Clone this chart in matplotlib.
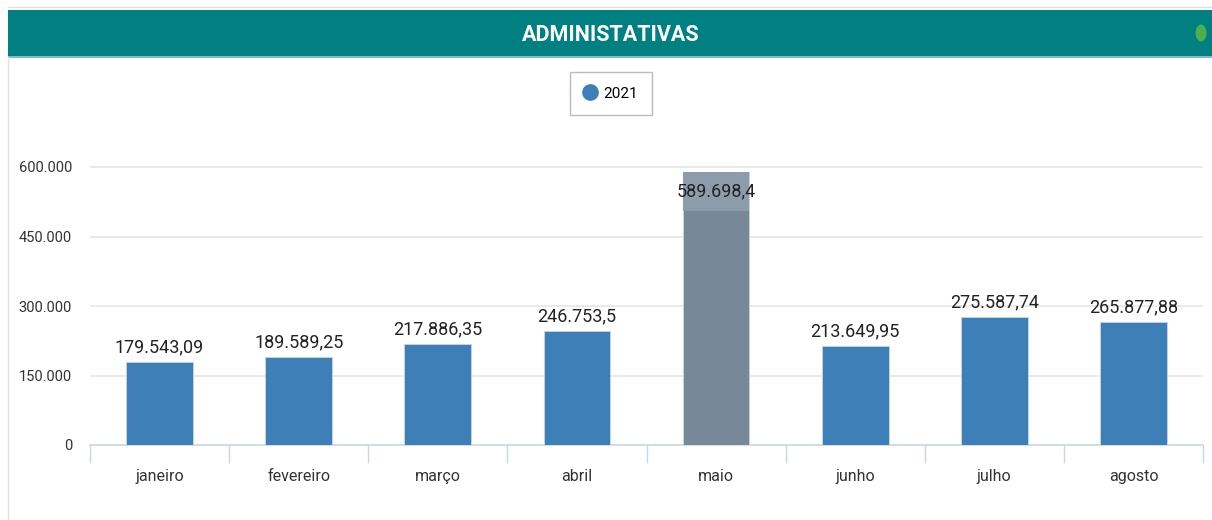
import matplotlib
matplotlib.use("Agg")
import matplotlib.pyplot as plt
from matplotlib.patches import Rectangle, Ellipse
from matplotlib.lines import Line2D
from matplotlib.ticker import FuncFormatter, FixedLocator

# ---- data ----
categories = ["janeiro", "fevereiro", "março", "abril", "maio", "junho", "julho", "agosto"]
values_2021 = [179543.09, 189589.25, 217886.35, 246753.5, 589698.4, 213649.95, 275587.74, 265877.88]
highlight_index = 4
series_name = "2021"
title = "ADMINISTATIVAS"
y_ticks = [0, 150000, 300000, 450000, 600000]

plt.rcParams["font.family"] = ["Roboto", "DejaVu Sans"]
s_val, s_tick, s_ytick, s_title, s_leg = 13, 11.5, 10.5, 15.5, 11

W, H = 1212, 520
fig = plt.figure(figsize=(W / 100, H / 100), dpi=100)

def fx(px):
    return px / W

def fy(py):
    return 1 - py / H

# header band
fig.patches.append(Rectangle((fx(8), fy(57)), 1 - fx(8), fy(10) - fy(57),
                             transform=fig.transFigure, facecolor="#008080",
                             edgecolor="none", zorder=0))
fig.patches.append(Rectangle((fx(8), fy(58)), 1 - fx(8), fy(56) - fy(58),
                             transform=fig.transFigure, facecolor="#7fbfbf",
                             edgecolor="none", zorder=0))
fig.text(fx(611), fy(35), title, ha="center", va="center", color="white",
         fontsize=s_title, fontweight="bold")
fig.patches.append(Ellipse((fx(1201), fy(33)), fx(11), 17 / H,
                           transform=fig.transFigure, facecolor="#4caf50",
                           edgecolor="none"))
# outer borders
fig.lines.append(Line2D([fx(7.5), fx(7.5)], [0, fy(57)], transform=fig.transFigure,
                        color="#e0e0e0", lw=1))
fig.lines.append(Line2D([fx(8), 1], [fy(7), fy(7)], transform=fig.transFigure,
                        color="#e0e0e0", lw=1))

# axes
ax_left, ax_right = 90, 1203
ax_bottom, ax_top = 445, 150
ax = fig.add_axes([fx(ax_left), fy(ax_bottom), fx(ax_right - ax_left), fy(ax_top) - fy(ax_bottom)])
ymax = 600000 * (ax_bottom - ax_top) / (ax_bottom - 167)

blue = "#3d7fb6"
gray = "#778899"
x = list(range(len(categories)))
colors = [gray if i == highlight_index else blue for i in x]
bw = 0.48
bars = ax.bar(x, values_2021, width=bw, color=colors, edgecolor="#c9d6e6", linewidth=0.6, zorder=3)

ax.set_xlim(-0.5, len(categories) - 0.5)
ax.set_ylim(0, ymax)

def br(v):
    s = f"{v:,.2f}".rstrip("0").rstrip(".")
    return s.replace(",", "X").replace(".", ",").replace("X", ".")

def br_tick(v, pos=None):
    return f"{int(v):,}".replace(",", ".")

for i, (b, v) in enumerate(zip(bars, values_2021)):
    cx = b.get_x() + b.get_width() / 2
    if i == highlight_index:
        hpx = 39
        dv = hpx / (ax_bottom - ax_top) * ymax
        ax.add_patch(Rectangle((b.get_x(), v - dv), b.get_width(), dv,
                               facecolor="#8d9cab", edgecolor="none", zorder=4))
        ax.text(cx, v - dv / 2, br(v), ha="center", va="center",
                fontsize=s_val, color="#222222", zorder=5)
    else:
        ax.annotate(br(v), (cx, v), xytext=(0, 4), textcoords="offset points",
                    ha="center", va="bottom", fontsize=s_val,
                    color="#222222", zorder=5)

ax.yaxis.set_major_locator(FixedLocator(y_ticks))
ax.yaxis.set_major_formatter(FuncFormatter(br_tick))
ax.grid(axis="y", color="#e6e6e6", lw=1.2, zorder=0)
ax.set_axisbelow(True)

ax.set_xticks(x)
ax.set_xticklabels(categories)
ax.set_xticks([i - 0.5 for i in range(len(categories) + 1)], minor=True)
ax.tick_params(axis="x", which="major", length=0, pad=17, labelcolor="#333333",
               labelsize=s_tick)
ax.tick_params(axis="x", which="minor", length=13, width=1, color="#ccd6eb", direction="out")
ax.tick_params(axis="y", length=0, pad=13, labelcolor="#333333", labelsize=s_ytick)

for s in ["top", "right", "left"]:
    ax.spines[s].set_visible(False)
ax.spines["bottom"].set_color("#ccd6eb")
ax.spines["bottom"].set_linewidth(1.2)

# legend
handle = Line2D([], [], marker="o", linestyle="none", markersize=11,
                markerfacecolor=blue, markeredgecolor=blue)
leg = fig.legend([handle], [series_name], loc="center",
                 bbox_to_anchor=(fx(611), fy(93.5)), frameon=True, fancybox=False,
                 edgecolor="#aaaaaa", fontsize=s_leg, handletextpad=0.45,
                 borderpad=0.95, handlelength=0.8)
leg.get_frame().set_linewidth(1)

fig.savefig("out.png", dpi=100)
